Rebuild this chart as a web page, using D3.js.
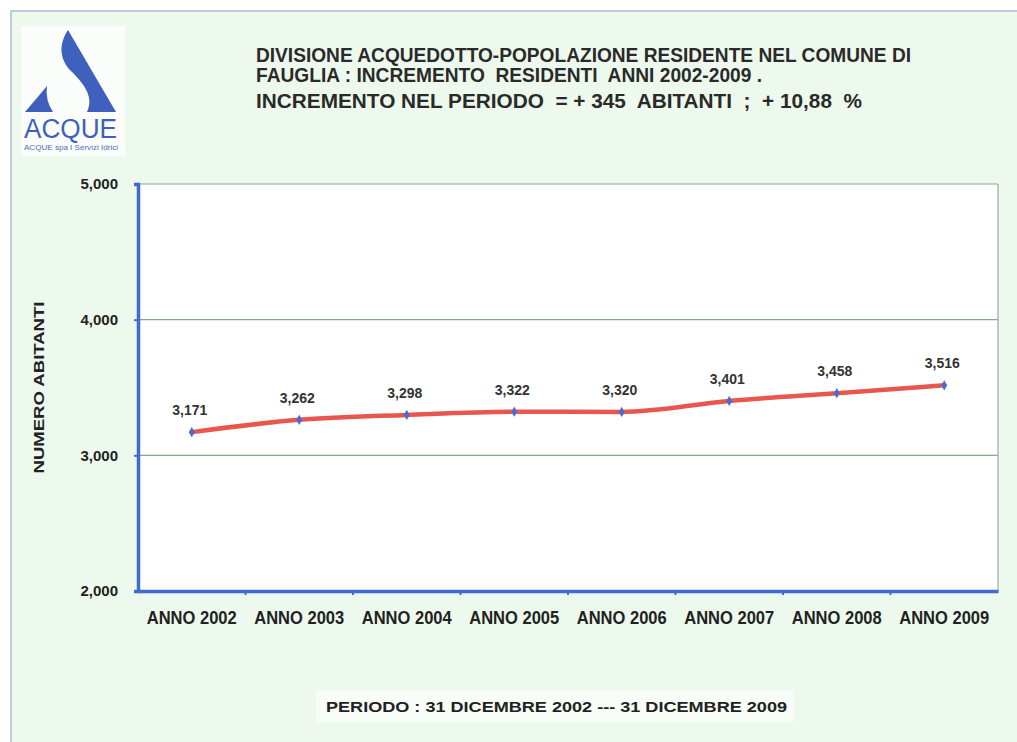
<!DOCTYPE html>
<html>
<head>
<meta charset="utf-8">
<script src="https://cdn.jsdelivr.net/npm/d3@7"></script>
<style>
  body { margin: 0; background: #ffffff; }
  text { font-family: "Liberation Sans Narrow", "Liberation Sans", Arial, sans-serif; white-space: pre; }
</style>
</head>
<body>
<script>
// data
var anni = ["ANNO 2002", "ANNO 2003", "ANNO 2004", "ANNO 2005", "ANNO 2006", "ANNO 2007", "ANNO 2008", "ANNO 2009"];
var residenti = [3171, 3262, 3298, 3322, 3320, 3401, 3458, 3516];
var yTicks = [2000, 3000, 4000, 5000];
var titolo = [
  "DIVISIONE ACQUEDOTTO-POPOLAZIONE RESIDENTE NEL COMUNE DI",
  "FAUGLIA : INCREMENTO  RESIDENTI  ANNI 2002-2009 .",
  "INCREMENTO NEL PERIODO  = + 345  ABITANTI  ;  + 10,88  %"
];
var periodo = "PERIODO : 31 DICEMBRE 2002 --- 31 DICEMBRE 2009";

var W = 1017, H = 742;
var margin = {top: 184, right: 19, bottom: 151, left: 138},
    width = W - margin.left - margin.right,
    height = H - margin.top - margin.bottom;

var svg = d3.select("body").append("svg")
    .attr("width", W)
    .attr("height", H);

// page background
svg.append("rect")
    .attr("x", 11).attr("y", 11)
    .attr("width", W - 11).attr("height", H - 11)
    .attr("fill", "#eef9ee");
svg.append("path")
    .attr("d", "M11," + H + " L11,11 L" + W + ",11")
    .attr("fill", "none")
    .attr("stroke", "#a9bcd6")
    .attr("stroke-width", 1.5);

// logo
var logo = svg.append("g");
logo.append("rect")
    .attr("x", 21).attr("y", 26).attr("width", 104).attr("height", 130)
    .attr("fill", "#fbfdfb");
logo.append("path")
    .attr("d", "M68,30 L116,112 L87,112 C95,96 82,82 71,71 C60,60 58,45 68,30 Z")
    .attr("fill", "#3f60bd");
logo.append("path")
    .attr("d", "M25,112 L47,86 Q45,100 53,112 Z")
    .attr("fill", "#3f60bd");
logo.append("text")
    .attr("x", 24).attr("y", 138)
    .attr("textLength", 93).attr("lengthAdjust", "spacingAndGlyphs")
    .style("font-family", "'Liberation Sans', Arial, sans-serif")
    .style("font-size", "27px")
    .attr("fill", "#3f60bd")
    .text("ACQUE");
logo.append("text")
    .attr("x", 24).attr("y", 150)
    .attr("textLength", 94).attr("lengthAdjust", "spacingAndGlyphs")
    .style("font-size", "8px")
    .attr("fill", "#4f6fb8")
    .text("ACQUE spa I Servizi Idrici");

// title
var titleLens = [655, 506, 606];
svg.selectAll(".titolo")
    .data(titolo)
  .enter().append("text")
    .attr("class", "titolo")
    .attr("x", 256)
    .attr("y", function(d, i) { return [62, 82, 108][i]; })
    .attr("textLength", function(d, i) { return titleLens[i]; })
    .attr("lengthAdjust", "spacingAndGlyphs")
    .style("font-size", function(d, i) { return i == 2 ? "21px" : "20px"; })
    .style("font-weight", "bold")
    .attr("fill", "#2a2a2a")
    .text(function(d) { return d; });

var g = svg.append("g")
    .attr("transform", "translate(" + margin.left + "," + margin.top + ")");

// scales
var x = d3.scaleBand().domain(anni).range([0, width]);
var y = d3.scaleLinear().domain([2000, 5000]).range([height, 0]);

// plot area
g.append("rect")
    .attr("width", width).attr("height", height)
    .attr("fill", "#ffffff");

// grid lines
g.selectAll(".grid")
    .data(yTicks.slice(1))
  .enter().append("line")
    .attr("x1", 0).attr("x2", width)
    .attr("y1", function(d) { return y(d); })
    .attr("y2", function(d) { return y(d); })
    .attr("stroke", "#86aa86")
    .attr("stroke-width", 1.2);

// right border
g.append("line")
    .attr("x1", width).attr("x2", width)
    .attr("y1", 0).attr("y2", height)
    .attr("stroke", "#a0a8a0")
    .attr("stroke-width", 1.2);

// y axis
var yAxis = g.append("g")
    .call(d3.axisLeft(y).tickValues(yTicks).tickFormat(d3.format(",")).tickSize(4).tickPadding(16));
yAxis.select(".domain").attr("stroke", "#3f6ad0").attr("stroke-width", 3.5);
yAxis.selectAll(".tick line").attr("stroke", "#3f6ad0").attr("stroke-width", 2);
yAxis.selectAll(".tick text")
    .style("font-family", "'Liberation Sans', Arial, sans-serif")
    .style("font-size", "15px")
    .style("font-weight", "bold")
    .attr("fill", "#222");

// x axis
var xAxis = g.append("g")
    .attr("transform", "translate(0," + height + ")")
    .call(d3.axisBottom(x).tickSize(0).tickPadding(20));
xAxis.select(".domain").attr("stroke", "#3f6ad0").attr("stroke-width", 3.5);
xAxis.selectAll(".tick text")
    .style("font-size", "18px")
    .style("font-weight", "bold")
    .attr("textLength", 90)
    .attr("lengthAdjust", "spacingAndGlyphs")
    .attr("fill", "#222");
// tick marks between categories
xAxis.selectAll(".sep")
    .data(anni.slice(1))
  .enter().append("line")
    .attr("x1", function(d) { return x(d); })
    .attr("x2", function(d) { return x(d); })
    .attr("y1", 0).attr("y2", 4)
    .attr("stroke", "#3f6ad0").attr("stroke-width", 2);

// y label
svg.append("text")
    .attr("transform", "translate(44," + (margin.top + height / 2) + ") rotate(-90)")
    .attr("text-anchor", "middle")
    .attr("textLength", 172).attr("lengthAdjust", "spacingAndGlyphs")
    .style("font-family", "'Liberation Sans', Arial, sans-serif")
    .style("font-size", "14px")
    .style("font-weight", "bold")
    .attr("fill", "#222")
    .text("NUMERO ABITANTI");

// line
var line = d3.line()
    .curve(d3.curveMonotoneX)
    .x(function(d, i) { return x(anni[i]) + x.bandwidth() / 2; })
    .y(function(d) { return y(d); });

g.append("path")
    .datum(residenti)
    .attr("d", line)
    .attr("fill", "none")
    .attr("stroke", "#e8574d")
    .attr("stroke-width", 4.5)
    .attr("stroke-linecap", "round");

// markers
g.selectAll(".pt")
    .data(residenti)
  .enter().append("path")
    .attr("d", d3.symbol().type(d3.symbolDiamond).size(30))
    .attr("transform", function(d, i) {
      return "translate(" + (x(anni[i]) + x.bandwidth() / 2) + "," + y(d) + ")";
    })
    .attr("fill", "#4a6ad6");

// value labels
g.selectAll(".lbl")
    .data(residenti)
  .enter().append("text")
    .attr("x", function(d, i) { return x(anni[i]) + x.bandwidth() / 2 - 2; })
    .attr("y", function(d) { return y(d) - 17; })
    .attr("text-anchor", "middle")
    .style("font-family", "'Liberation Sans', Arial, sans-serif")
    .style("font-size", "14px")
    .style("font-weight", "bold")
    .attr("fill", "#333")
    .text(d3.format(","));

// bottom caption
svg.append("rect")
    .attr("x", 316).attr("y", 690).attr("width", 478).attr("height", 32)
    .attr("fill", "#f8fdf7");
svg.append("text")
    .attr("x", 326).attr("y", 712)
    .attr("textLength", 461).attr("lengthAdjust", "spacingAndGlyphs")
    .style("font-family", "'Liberation Sans', Arial, sans-serif")
    .style("font-size", "14px")
    .style("font-weight", "bold")
    .attr("fill", "#222")
    .text(periodo);
</script>
</body>
</html>
